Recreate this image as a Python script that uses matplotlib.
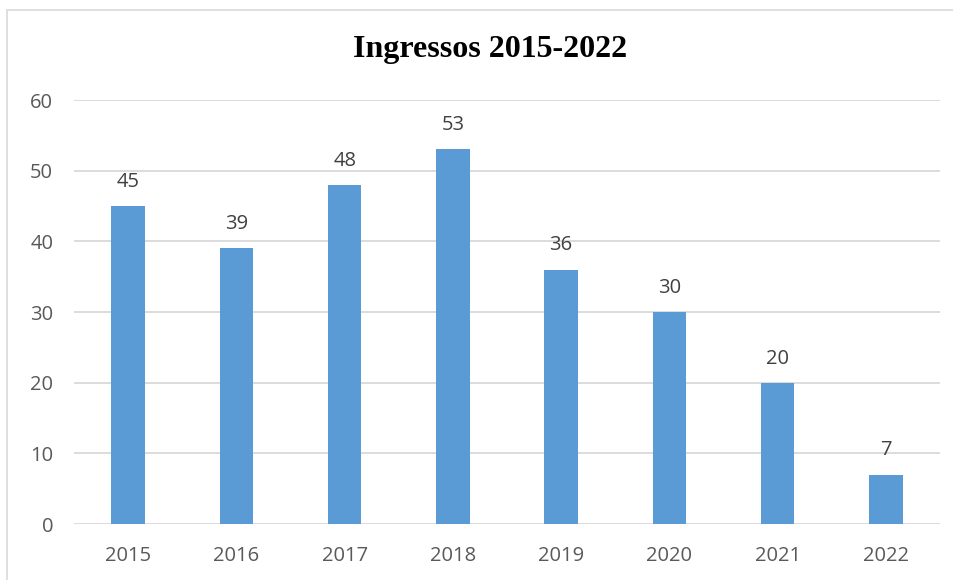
import matplotlib
matplotlib.use("Agg")
import matplotlib.pyplot as plt
from matplotlib.patches import Rectangle

years = ["2015", "2016", "2017", "2018", "2019", "2020", "2021", "2022"]
values = [45, 39, 48, 53, 36, 30, 20, 7]
yticks = [0, 10, 20, 30, 40, 50, 60]

W, H = 954, 580
fig = plt.figure(figsize=(W / 100, H / 100), dpi=100)
fig.patch.set_facecolor("white")

# outer chart border (extends off image to the right/bottom)
fig.patches.append(Rectangle((7 / W, -0.1), 1.2, (H - 10) / H + 0.1, transform=fig.transFigure,
                             fill=False, edgecolor="#D9D9D9", linewidth=1.2))

ax = fig.add_axes([74 / W, (H - 524) / H, (940 - 74) / W, (524 - 100) / H])
x = range(len(years))
ax.bar(x, values, width=0.31, color="#5B9BD5", zorder=3)
for xi, v in zip(x, values):
    ax.text(xi, v + 2.0, str(v), ha="center", va="bottom", fontsize=14.5,
            family="Open Sans", color="#404040", zorder=4)

ax.set_xlim(-0.5, len(years) - 0.5)
ax.set_ylim(0, 60)
ax.set_yticks(yticks)
ax.set_yticklabels([str(t) for t in yticks], family="Open Sans", fontsize=14.5, color="#595959")
ax.set_xticks(list(x))
ax.set_xticklabels(years, family="Open Sans", fontsize=14.5, color="#595959")
ax.tick_params(axis="both", length=0)
ax.tick_params(axis="y", pad=15)
ax.tick_params(axis="x", pad=16)
ax.grid(axis="y", color="#D9D9D9", linewidth=1.3, zorder=0)
for s in ax.spines.values():
    s.set_visible(False)

fig.text(490 / W, (H - 50) / H, "Ingressos 2015-2022", ha="center", va="center",
         family="Liberation Serif", fontweight="bold", fontsize=23, color="black")

fig.savefig("out.png", dpi=100, facecolor="white")
